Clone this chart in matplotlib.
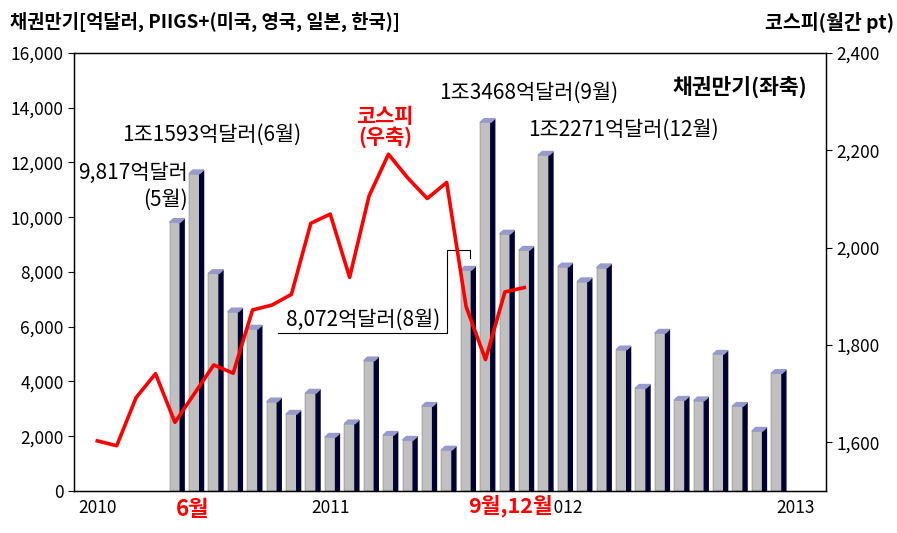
import numpy as np
import matplotlib.pyplot as plt
from matplotlib.ticker import FuncFormatter

plt.rcParams['font.family'] = ['Noto Sans CJK KR', 'DejaVu Sans']

# month index: 0 = Jan 2010
bond_months = list(range(4, 36))   # May 2010 .. Dec 2012
bond_values = [9817, 11593, 7950, 6550, 5920, 3260, 2810, 3580,
               1970, 2460, 4760, 2040, 1860, 3100, 1500, 8072,
               13468, 9390, 8800, 12271,
               8190, 7650, 8160, 5160, 3760, 5770, 3320, 3300,
               5000, 3100, 2190, 4300]

kospi_months = list(range(0, 23))  # Jan 2010 .. Nov 2011
kospi_values = [1603, 1593, 1692, 1741, 1641, 1700, 1759, 1742,
                1872, 1882, 1904, 2050, 2069, 1939, 2106, 2192,
                2143, 2101, 2134, 1879, 1770, 1909, 1918]

year_ticks = [0, 12, 24, 36]
year_labels = ['2010', '2011', '2012', '2013']

fig = plt.figure(figsize=(8.97, 5.33), dpi=100)
ax = fig.add_axes([0.0825, 0.0788, 0.8385, 0.8218])

# pseudo 3D bars
w, dx, dy = 0.55, 0.2, 130
ax.bar(bond_months, bond_values, width=w, color='#C0C0C0',
       edgecolor='#666666', linewidth=0.3, zorder=2)
for m, v in zip(bond_months, bond_values):
    r, l = m + w / 2, m - w / 2
    ax.fill([r, r + dx, r + dx, r], [0, 0, v + dy, v],
            color='#000033', zorder=2)
    ax.fill([l, l + dx, r + dx, r], [v, v + dy, v + dy, v],
            color='#9999CC', zorder=2)

ax.set_xlim(-1.2, 37.55)
ax.set_ylim(0, 16000)
ax.set_yticks(np.arange(0, 16001, 2000))
ax.yaxis.set_major_formatter(FuncFormatter(lambda v, p: f'{int(v):,}'))
ax.set_xticks(year_ticks)
ax.set_xticklabels(year_labels)
ax.tick_params(axis='x', length=0, pad=6, labelsize=12.5)
ax.tick_params(axis='y', length=4, labelsize=12.5)
for s in ax.spines.values():
    s.set_linewidth(1.0)

ax2 = ax.twinx()
ax2.plot(kospi_months, kospi_values, color='#FF0000', linewidth=2.6, zorder=3)
ax2.set_ylim(1500, 2400)
ax2.set_yticks(np.arange(1600, 2401, 200))
ax2.yaxis.set_major_formatter(FuncFormatter(lambda v, p: f'{int(v):,}'))
ax2.tick_params(axis='y', length=4, labelsize=12.5)

# titles
fig.text(0.011, 0.958, '채권만기[억달러, PIIGS+(미국, 영국, 일본, 한국)]',
         fontsize=13.5, fontweight='bold', ha='left', va='center')
fig.text(0.997, 0.958, '코스피(월간 pt)',
         fontsize=14, fontweight='bold', ha='right', va='center')

# annotations
fs = 15
ax.text(4.67, 11620, '9,817억달러', fontsize=fs, ha='right', va='center')
ax.text(4.67, 10630, '(5월)', fontsize=fs, ha='right', va='center')
ax.text(5.88, 13000, '1조1593억달러(6월)', fontsize=fs, ha='center', va='center')
ax.text(22.2, 14540, '1조3468억달러(9월)', fontsize=fs, ha='center', va='center')
ax.text(33.1, 14760, '채권만기(좌축)', fontsize=15.5, fontweight='bold',
        ha='center', va='center')
ax.text(27.1, 13190, '1조2271억달러(12월)', fontsize=fs, ha='center', va='center')
ax.text(13.67, 6250, '8,072억달러(8월)', fontsize=fs, ha='center', va='center',
        zorder=4)
ax.plot([9.31, 18.02, 18.02, 19.2, 19.2], [5770, 5770, 8800, 8800, 8510],
        color='black', linewidth=0.8, zorder=4)
ax.text(14.82, 13300, '코스피\n(우축)', fontsize=15, fontweight='bold',
        color='#FF0000', ha='center', va='center', linespacing=1.0)
ax.text(4.93, -680, '6월', fontsize=16, fontweight='bold', color='#FF0000',
        ha='center', va='center', clip_on=False)
# in the original this label sits on top of the "2" of 2012
ax.text(21.3, -540, '9월,12월', fontsize=15.5, fontweight='bold', color='#FF0000',
        ha='center', va='center', clip_on=False, zorder=5,
        bbox=dict(facecolor='white', edgecolor='none', pad=0.5))

fig.savefig('out.png', dpi=100)
